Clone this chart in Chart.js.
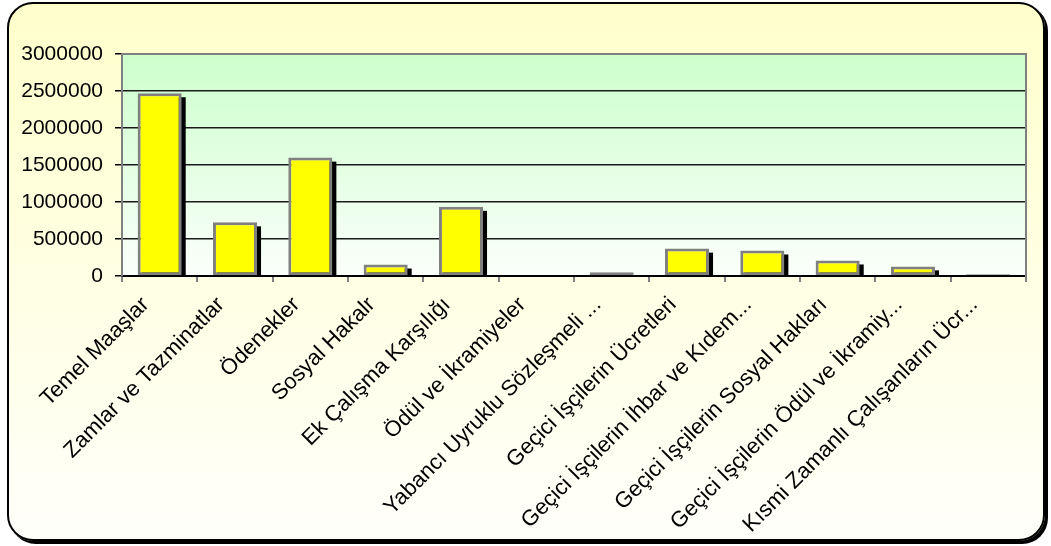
<!DOCTYPE html>
<html>
<head>
<meta charset="utf-8">
<script src="https://cdn.jsdelivr.net/npm/chart.js@4"></script>
<style>
    html, body { margin: 0; padding: 0; background: #fff; }
    #wrap { position: relative; width: 1051px; height: 546px; overflow: hidden; }
    #frame {
        position: absolute; left: 7px; top: 2px; width: 1034px; height: 535px;
        border: 2px solid #000; border-radius: 26px;
        box-shadow: 3px 3px 0 #000;
        background: linear-gradient(#ffffcc, #fffffa);
    }
    #chart { position: absolute; left: 0; top: 0; }
</style>
</head>
<body>
<div id="wrap">
    <div id="frame"></div>
    <canvas id="chart" width="1051" height="546"></canvas>
</div>
<script>
// categories and values
const categories = [
    'Temel Maaşlar',
    'Zamlar ve Tazminatlar',
    'Ödenekler',
    'Sosyal Hakalr',
    'Ek Çalışma Karşılığı',
    'Ödül ve İkramiyeler',
    'Yabancı Uyruklu Sözleşmeli ...',
    'Geçici İşçilerin Ücretleri',
    'Geçici İşçilerin İhbar ve Kıdem...',
    'Geçici İşçilerin Sosyal Hakları',
    'Geçici İşçilerin Ödül ve İkramiy...',
    'Kısmi Zamanlı Çalışanların Ücr...'
];
const amounts = [2470000, 725000, 1600000, 155000, 935000, 0, 50000, 370000, 345000, 210000, 130000, 25000];
const yTicks = [0, 500000, 1000000, 1500000, 2000000, 2500000, 3000000];

const FONT = 'Arial, "Liberation Sans", sans-serif';

// plot area gradient + grey top/right border
const plotBg = {
    id: 'plotBg',
    beforeDraw(chart) {
        const { ctx, chartArea: a } = chart;
        const g = ctx.createLinearGradient(0, a.top, 0, a.bottom);
        g.addColorStop(0, '#ccffcc');
        g.addColorStop(1, '#fbfffb');
        ctx.save();
        ctx.fillStyle = g;
        ctx.fillRect(a.left, a.top, a.right - a.left, a.bottom - a.top);
        ctx.restore();
    },
    afterDraw(chart) {
        const { ctx, chartArea: a } = chart;
        ctx.save();
        ctx.strokeStyle = '#808080';
        ctx.lineWidth = 2;
        ctx.beginPath();
        ctx.moveTo(a.left, a.top);
        ctx.lineTo(a.right, a.top);
        ctx.lineTo(a.right, a.bottom + 6);
        ctx.stroke();
        ctx.restore();
    }
};

// black drop shadow behind each bar
const barShadow = {
    id: 'barShadow',
    beforeDatasetsDraw(chart) {
        const { ctx, chartArea: a } = chart;
        ctx.save();
        ctx.beginPath();
        ctx.rect(a.left, a.top, a.right - a.left, a.bottom - a.top);
        ctx.clip();
        ctx.fillStyle = '#000';
        chart.getDatasetMeta(0).data.forEach(bar => {
            const { x, y, base, width } = bar.getProps(['x', 'y', 'base', 'width'], true);
            if (base - y < 2) return;
            ctx.fillRect(x - width / 2 + 4, y + 4, width, base - y);
        });
        ctx.restore();
    }
};

new Chart(document.getElementById('chart'), {
    type: 'bar',
    data: {
        labels: categories,
        datasets: [{
            data: amounts,
            backgroundColor: '#ffff00',
            borderColor: '#808080',
            borderWidth: 3,
            borderSkipped: false,
            barPercentage: 0.585,
            categoryPercentage: 1
        }]
    },
    options: {
        responsive: false,
        animation: false,
        layout: { padding: { left: 0, right: 25, top: 54, bottom: 0 } },
        plugins: { legend: { display: false }, tooltip: { enabled: false } },
        scales: {
            x: {
                afterFit: s => { s.height = 270; },
                grid: { drawOnChartArea: false, drawTicks: true, tickLength: 6, color: '#808080', lineWidth: 2 },
                border: { color: '#000', width: 2 },
                ticks: {
                    autoSkip: false, minRotation: 45, maxRotation: 45,
                    color: '#000', padding: 10, labelOffset: -14,
                    font: { family: FONT, size: 22 }
                }
            },
            y: {
                min: 0, max: 3000000,
                afterFit: s => { s.width = 122; },
                afterBuildTicks: s => { s.ticks = yTicks.map(v => ({ value: v })); },
                grid: {
                    color: c => c.tick && c.tick.value === 3000000 ? '#808080' : '#1a1a1a',
                    tickColor: '#000', tickLength: 7, lineWidth: 1.5
                },
                border: { color: '#808080', width: 2 },
                ticks: {
                    color: '#000', padding: 12,
                    font: { family: FONT, size: 21 },
                    callback: v => String(v)
                }
            }
        }
    },
    plugins: [plotBg, barShadow]
});
</script>
</body>
</html>
